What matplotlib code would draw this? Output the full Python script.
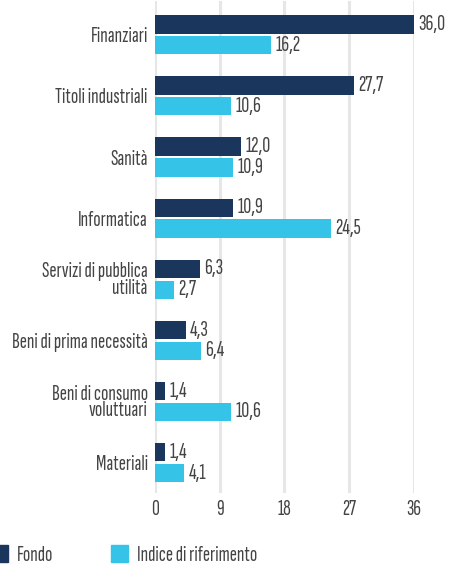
import numpy as np
import matplotlib
matplotlib.use('Agg')
import matplotlib.pyplot as plt
from matplotlib.patches import Patch

plt.rcParams['font.family'] = ['Sofia Sans Extra Condensed', 'DejaVu Sans']
plt.rcParams['font.weight'] = 'light'

categorie = ['Finanziari', 'Titoli industriali', 'Sanità', 'Informatica',
             'Servizi di pubblica\nutilità', 'Beni di prima necessità',
             'Beni di consumo\nvoluttuari', 'Materiali']
fondo = [36.0, 27.7, 12.0, 10.9, 6.3, 4.3, 1.4, 1.4]
indice = [16.2, 10.6, 10.9, 24.5, 2.7, 6.4, 10.6, 4.1]
xticks = [0, 9, 18, 27, 36]

col_fondo = '#1b365d'
col_indice = '#35c4e8'
grigio = '#444444'
fs = 15.5

fig = plt.figure(figsize=(4.5, 5.65), dpi=100)
ax = fig.add_axes([0.344, 0.127, 0.576, 0.871])

y = np.arange(len(categorie))
h = 0.3
off = 0.17
ax.barh(y - off, fondo, height=h, color=col_fondo, zorder=3)
ax.barh(y + off, indice, height=h, color=col_indice, zorder=3)

def fmt(v):
    return f'{v:.1f}'.replace('.', ',')

for yi, v in zip(y - off, fondo):
    ax.text(v + 0.6, yi, fmt(v), va='center', ha='left', fontsize=16,
            color=grigio, clip_on=False)
for yi, v in zip(y + off, indice):
    ax.text(v + 0.6, yi, fmt(v), va='center', ha='left', fontsize=16,
            color=grigio, clip_on=False)

ax.set_xlim(0, 36)
ax.set_ylim(len(categorie) - 0.5, -0.55)
ax.set_yticks(y)
ax.set_yticklabels(categorie, fontsize=fs, color=grigio, linespacing=0.85)
ax.set_xticks(xticks)
ax.set_xticklabels([str(t) for t in xticks], fontsize=fs, color=grigio)
ax.tick_params(axis='both', length=0, pad=5)
ax.grid(axis='x', color='#e6e6e6', linewidth=2.2, zorder=0)
for s in ax.spines.values():
    s.set_visible(False)

handles = [Patch(color=col_fondo, label='Fondo'),
           Patch(color=col_indice, label='Indice di riferimento')]
fig.legend(handles=handles, loc='lower left', bbox_to_anchor=(-0.02, 0.0),
           ncol=2, frameon=False, handlelength=0.8, handleheight=0.8,
           handletextpad=0.42, columnspacing=2.65, borderpad=0,
           borderaxespad=0, prop={'size': fs}, labelcolor=grigio)

fig.savefig('out.png', dpi=100)
